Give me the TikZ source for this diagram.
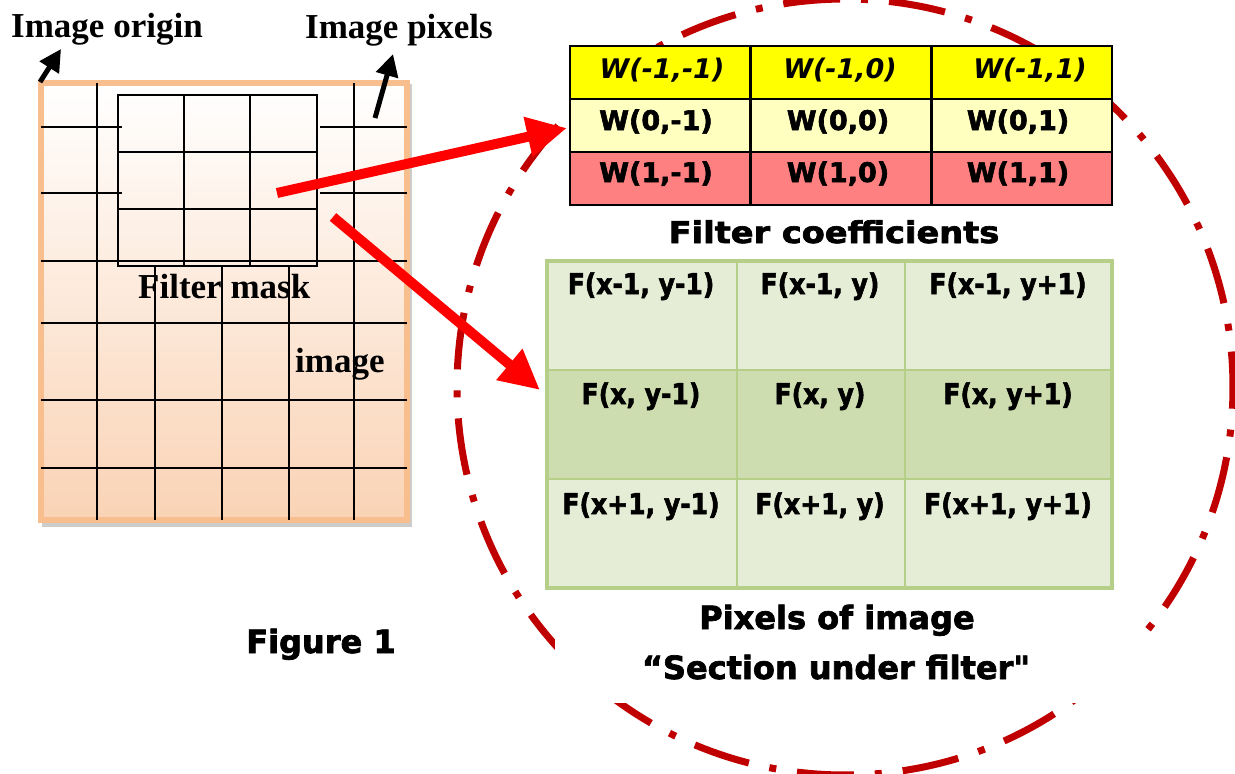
\documentclass[tikz,border=0pt]{standalone}
\usepackage{fontspec}
\usepackage{graphicx}
\setmainfont{Liberation Serif}
\newfontfamily\dv{DejaVu Sans}[BoldFeatures={FakeBold=2.2}]
\usetikzlibrary{arrows.meta}
\definecolor{circred}{RGB}{192,0,0}
\definecolor{peach}{RGB}{250,211,181}
\definecolor{peachb}{RGB}{249,190,142}
\definecolor{wyel}{RGB}{255,255,0}
\definecolor{wlyel}{RGB}{255,255,192}
\definecolor{wpink}{RGB}{255,128,128}
\definecolor{glight}{RGB}{229,237,214}
\definecolor{gmid}{RGB}{206,221,175}
\definecolor{gline}{RGB}{181,206,136}
\newcommand{\wfont}{\dv\bfseries\fontsize{27}{27}\selectfont}
\newcommand{\ftxt}[1]{\scalebox{0.88}[1]{\dv\bfseries\fontsize{28.5}{28.5}\selectfont #1}}
\begin{document}
\begin{tikzpicture}[x=1pt,y=-1pt,
  serif/.style={font=\fontsize{35}{35}\selectfont\bfseries, inner sep=0pt, anchor=base west},
  title/.style={inner sep=0pt, anchor=base},
  gridline/.style={line width=2pt, black},
  blackarrow/.style={line width=5pt, -{Triangle[length=22pt,width=22pt]}},
  redarrow/.style={line width=10pt, red, -{Triangle[length=40pt,width=38pt]}},
  wcell/.style={draw=black, line width=2.5pt, minimum width=180.67pt, minimum height=53pt, inner sep=0pt},
  gcell/.style={draw=gline, line width=2.5pt, minimum height=109pt, inner sep=0pt},
  celltext/.style={inner sep=0pt, anchor=base},
  circ/.style={circred, line width=7pt, dash pattern=on 57pt off 21pt on 7pt off 21pt, dash phase=28.5pt}
]
\useasboundingbox (0,0) rectangle (1235,774);
\clip (0,0) rectangle (1235,774);

% image box with shadow
\fill[gray!40] (42,84) rectangle (412,527);
\node[draw=peachb, line width=6pt, top color=white, bottom color=peach,
      minimum width=366pt, minimum height=437pt, inner sep=0pt] (img) at (224,301.5) {};

% image grid
\foreach \x in {97,354} \draw[gridline] (\x,83) -- (\x,520);
\foreach \x in {155,222,289} \draw[gridline] (\x,266) -- (\x,520);
\foreach \y in {127,193} {\draw[gridline] (41,\y) -- (122,\y); \draw[gridline] (320,\y) -- (407,\y);}
\foreach \y in {261,323,400,468} \draw[gridline] (41,\y) -- (407,\y);

% filter mask
\node[draw=black, line width=2.5pt, minimum width=199pt, minimum height=171pt, inner sep=0pt] (mask) at (217.5,180.5) {};
\draw[gridline] (184,95) -- (184,266);
\draw[gridline] (250,95) -- (250,266);
\draw[gridline] (118,152) -- (317,152);
\draw[gridline] (118,209) -- (317,209);

% serif labels
\node[serif] (origin) at (11,37) {Image origin};
\node[serif] (pixels) at (305,38) {Image pixels};
\node[serif] (fmask) at (138,298) {Filter mask};
\node[serif] (imgtxt) at (295,372) {image};

% dash-dot circle
\draw[circ, rotate around={1.03:(845,387)}] (845,387) circle[radius=388pt];

% white box of the caption that hides part of the circle
\node[fill=white, minimum width=591pt, minimum height=67pt, inner sep=0pt] (secbox) at (850.5,669.5) {};

% filter coefficient table
\node[wcell, fill=wyel] (w11) at (660.33,72.5) {};
\node[wcell, fill=wyel] (w12) at (841,72.5) {};
\node[wcell, fill=wyel] (w13) at (1021.67,72.5) {};
\node[wcell, fill=wlyel] (w21) at (660.33,125.5) {};
\node[wcell, fill=wlyel] (w22) at (841,125.5) {};
\node[wcell, fill=wlyel] (w23) at (1021.67,125.5) {};
\node[wcell, fill=wpink] (w31) at (660.33,178.5) {};
\node[wcell, fill=wpink] (w32) at (841,178.5) {};
\node[wcell, fill=wpink] (w33) at (1021.67,178.5) {};
\node[celltext, font=\wfont\itshape] (tw11) at (662,78) {W(-1,-1)};
\node[celltext, font=\wfont\itshape] (tw12) at (840,78) {W(-1,0)};
\node[celltext, font=\wfont\itshape] (tw13) at (1030,78) {W(-1,1)};
\node[celltext, font=\wfont] (tw21) at (656,130) {W(0,-1)};
\node[celltext, font=\wfont] (tw22) at (838,130) {W(0,0)};
\node[celltext, font=\wfont] (tw23) at (1018,130) {W(0,1)};
\node[celltext, font=\wfont] (tw31) at (656,182) {W(1,-1)};
\node[celltext, font=\wfont] (tw32) at (838,182) {W(1,0)};
\node[celltext, font=\wfont] (tw33) at (1018,182) {W(1,1)};

\node[title] (fcoef) at (834,243) {\scalebox{1.12}[1]{\dv\bfseries\fontsize{30}{30}\selectfont Filter coefficients}};

% pixels table
\node[gcell, fill=glight, minimum width=190pt] (g11) at (642,315.5) {};
\node[gcell, fill=glight, minimum width=168pt] (g12) at (821,315.5) {};
\node[gcell, fill=glight, minimum width=207pt] (g13) at (1008.5,315.5) {};
\node[gcell, fill=gmid, minimum width=190pt] (g21) at (642,424.5) {};
\node[gcell, fill=gmid, minimum width=168pt] (g22) at (821,424.5) {};
\node[gcell, fill=gmid, minimum width=207pt] (g23) at (1008.5,424.5) {};
\node[gcell, fill=glight, minimum width=190pt] (g31) at (642,533.5) {};
\node[gcell, fill=glight, minimum width=168pt] (g32) at (821,533.5) {};
\node[gcell, fill=glight, minimum width=207pt] (g33) at (1008.5,533.5) {};
\draw[gline, line width=4pt] (547,261) rectangle (1112,588);
\node[celltext] (f11) at (641,294) {\ftxt{F(x-1, y-1)}};
\node[celltext] (f12) at (820,294) {\ftxt{F(x-1, y)}};
\node[celltext] (f13) at (1008,294) {\ftxt{F(x-1, y+1)}};
\node[celltext] (f21) at (641,404) {\ftxt{F(x, y-1)}};
\node[celltext] (f22) at (820,404) {\ftxt{F(x, y)}};
\node[celltext] (f23) at (1008,404) {\ftxt{F(x, y+1)}};
\node[celltext] (f31) at (641,514) {\ftxt{F(x+1, y-1)}};
\node[celltext] (f32) at (820,514) {\ftxt{F(x+1, y)}};
\node[celltext] (f33) at (1008,514) {\ftxt{F(x+1, y+1)}};

% captions
\node[title, font=\dv\bfseries\fontsize{32}{32}\selectfont] (pix) at (837,629) {Pixels of image};
\node[title, font=\dv\bfseries\fontsize{32}{32}\selectfont] (sec) at (836,679) {“Section under filter"};
\node[title, font=\dv\bfseries\fontsize{32}{32}\selectfont] (fig) at (321,653) {Figure 1};

% red arrows
\coordinate (r1s) at (277,193);
\coordinate (r1e) at (567,128);
\coordinate (r2s) at (333,217);
\coordinate (r2e) at (540,390);
\draw[redarrow] (r1s) -- (r1e);
\draw[redarrow] (r2s) -- (r2e);

% black arrows
\coordinate (o1) at (40,82);
\coordinate (o2) at (61,49);
\coordinate (p1) at (375,118);
\coordinate (p2) at (393,54);
\draw[blackarrow] (o1) -- (o2);
\draw[blackarrow] (p1) -- (p2);
\end{tikzpicture}
\end{document}
